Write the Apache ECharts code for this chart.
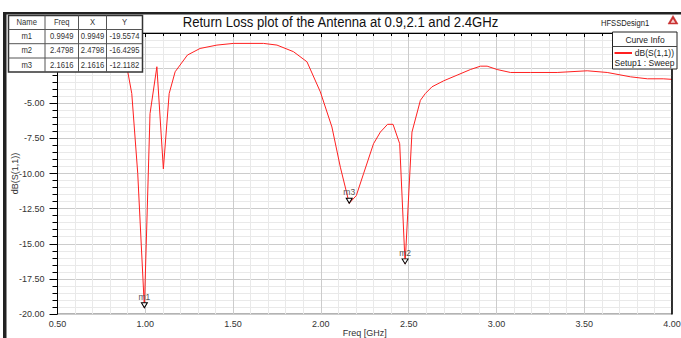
<!DOCTYPE html>
<html>
<head>
<meta charset="utf-8">
<script src="https://cdn.jsdelivr.net/npm/echarts@6/dist/echarts.min.js"></script>
<style>
html,body{margin:0;padding:0;background:#fff;}
#chart{width:681px;height:338px;}
</style>
</head>
<body>
<div id="chart"></div>
<script>
// ---- data ----
const freqGHz = [0.85, 0.895, 0.923, 0.957, 0.9949, 1.027, 1.066, 1.103, 1.136, 1.17, 1.24, 1.312, 1.408, 1.502, 1.673, 1.75, 1.844, 1.921, 1.997, 2.063, 2.111, 2.1616, 2.202, 2.243, 2.30, 2.339, 2.380, 2.411, 2.449, 2.4798, 2.519, 2.567, 2.595, 2.633, 2.70, 2.776, 2.852, 2.909, 2.947, 3.004, 3.08, 3.194, 3.346, 3.517, 3.631, 3.764, 3.86, 3.95, 4.0];
const dbS11 = [-1.0, -2.40, -4.31, -10.0, -19.5574, -5.74, -2.40, -9.67, -4.31, -2.76, -1.57, -1.10, -0.86, -0.74, -0.74, -0.86, -1.33, -2.05, -4.19, -6.69, -9.55, -12.1182, -11.57, -10.02, -7.88, -7.05, -6.5, -6.5, -7.88, -16.4295, -7.05, -4.79, -4.31, -3.83, -3.4, -3.0, -2.6, -2.36, -2.36, -2.6, -2.81, -2.81, -2.81, -2.69, -2.81, -3.12, -3.26, -3.26, -3.3];
const markerNames = ['m1', 'm2', 'm3'];
const markerFreq = [0.9949, 2.4798, 2.1616];
const markerDb = [-19.5574, -16.4295, -12.1182];
const tableHeaders = ['Name', 'Freq', 'X', 'Y'];
const titleText = 'Return Loss plot of the Antenna at 0.9,2.1 and 2.4GHz';
const designName = 'HFSSDesign1';
const curveName = 'dB(S(1,1))';
const sweepName = 'Setup1 : Sweep';
const xAxisName = 'Freq [GHz]';
const yAxisName = 'dB(S(1,1))';

const FONT = '"Liberation Sans", Arial, sans-serif';
const chart = echarts.init(document.getElementById('chart'), null, {renderer: 'svg'});

// table graphics
const colX = [8.5, 45, 78.5, 106.5, 142.5];
const rowY = [15.5, 29.5, 43.7, 58, 72];
const tableEls = [];
tableEls.push({type: 'rect', z: 100, shape: {x: colX[0], y: rowY[0], width: colX[4] - colX[0], height: rowY[4] - rowY[0]}, style: {fill: '#fff', stroke: '#333', lineWidth: 1.5}});
for (let c = 1; c < 4; c++) tableEls.push({type: 'line', z: 101, shape: {x1: colX[c], y1: rowY[0], x2: colX[c], y2: rowY[4]}, style: {stroke: '#555', lineWidth: 1}});
for (let r = 1; r < 4; r++) tableEls.push({type: 'line', z: 101, shape: {x1: colX[0], y1: rowY[r], x2: colX[4], y2: rowY[r]}, style: {stroke: '#555', lineWidth: 1}});
const rows = [tableHeaders].concat(markerNames.map((n, i) => [n, markerFreq[i].toFixed(4), markerFreq[i].toFixed(4), markerDb[i].toFixed(4)]));
rows.forEach((row, r) => {
  row.forEach((t, c) => {
    tableEls.push({type: 'text', z: 102, x: (colX[c] + colX[c + 1]) / 2, y: (rowY[r] + rowY[r + 1]) / 2,
      scaleX: 0.9,
      style: {text: t, fill: '#333', font: '8.5px ' + FONT, textAlign: 'center', textVerticalAlign: 'middle'}});
  });
});

const option = {
  animation: false,
  backgroundColor: '#fff',
  grid: {left: 57.5, right: 9, top: 33, bottom: 24, show: true, borderColor: '#666', borderWidth: 1,
    outerBoundsMode: 'none', containLabel: false},
  xAxis: {
    type: 'value', min: 0.5, max: 4, interval: 0.5,
    name: xAxisName, nameLocation: 'middle', nameGap: 14.5, nameMoveOverlap: false,
    nameTextStyle: {fontFamily: FONT, fontSize: 9, color: '#333'},
    axisLine: {lineStyle: {color: '#000', width: 1}},
    axisTick: {show: true, inside: false, length: 4, lineStyle: {color: '#000'}},
    minorTick: {show: true, splitNumber: 5, length: 3, lineStyle: {color: '#000'}},
    splitLine: {show: true, lineStyle: {color: '#cccccc', width: 1}},
    minorSplitLine: {show: true, lineStyle: {color: '#e9e9e9', width: 1}},
    axisLabel: {fontFamily: FONT, fontSize: 9, color: '#333', margin: 5, formatter: v => v.toFixed(2)}
  },
  yAxis: {
    type: 'value', min: -20, max: 0, interval: 2.5,
    name: yAxisName, nameLocation: 'middle', nameRotate: 90, nameGap: 38, nameMoveOverlap: false,
    nameTextStyle: {fontFamily: FONT, fontSize: 9, color: '#333'},
    axisLine: {show: true, lineStyle: {color: '#000', width: 1}},
    axisTick: {show: true, inside: false, length: 8, lineStyle: {color: '#000'}},
    minorTick: {show: true, splitNumber: 5, length: 5, lineStyle: {color: '#000'}},
    splitLine: {show: true, lineStyle: {color: '#cccccc', width: 1}},
    minorSplitLine: {show: true, lineStyle: {color: '#e9e9e9', width: 1}},
    axisLabel: {fontFamily: FONT, fontSize: 9, color: '#333', margin: 13,
      formatter: v => (v <= -5 ? v.toFixed(2) : '')}
  },
  series: [{
    name: curveName, type: 'line', symbol: 'none', smooth: false,
    lineStyle: {color: '#ff2020', width: 1},
    data: freqGHz.map((f, i) => [f, dbS11[i]]),
    markPoint: {
      symbol: 'path://M0,0 L10,0 L5,9 Z', symbolSize: [6, 5], symbolOffset: [0, '-50%'],
      itemStyle: {color: '#fff', borderColor: '#000', borderWidth: 1},
      label: {show: true, position: 'top', distance: 1, formatter: p => p.name,
        fontFamily: FONT, fontSize: 8.5, color: '#555'},
      data: markerNames.map((n, i) => ({name: n, coord: [markerFreq[i], markerDb[i]]}))
    }
  }],
  graphic: [
    {type: 'polygon', z: 110, shape: {points: [[673, 15.5], [678, 24], [668, 24]]}, style: {fill: '#c83030', stroke: '#c83030', lineWidth: 0.5}},
    {type: 'polygon', z: 111, shape: {points: [[673, 19], [675.3, 22.7], [670.7, 22.7]]}, style: {fill: '#f6d0d0'}},
    {type: 'line', z: 90, shape: {x1: 3, y1: 13.2, x2: 681, y2: 13.2}, style: {stroke: '#222', lineWidth: 2.5}},
    {type: 'rect', z: 90, shape: {x: 3, y: 12, width: 3.5, height: 326}, style: {fill: '#222'}},
    {type: 'line', z: 90, shape: {x1: 672, y1: 33, x2: 672, y2: 314.5}, style: {stroke: '#000', lineWidth: 1.5}},
    {type: 'text', z: 90, x: 340.5, y: 22, scaleX: 0.875,
      style: {text: titleText, fill: '#111', font: '15px ' + FONT, textAlign: 'center', textVerticalAlign: 'middle'}},
    {type: 'text', z: 90, x: 601, y: 22.5, scaleX: 0.8,
      style: {text: designName, fill: '#222', font: '9.5px ' + FONT, textAlign: 'left', textVerticalAlign: 'middle'}},
    // legend box
    {type: 'rect', z: 100, shape: {x: 612.5, y: 32, width: 64.5, height: 37}, style: {fill: '#fff', stroke: '#222', lineWidth: 1}},
    {type: 'line', z: 101, shape: {x1: 612.5, y1: 46.5, x2: 677, y2: 46.5}, style: {stroke: '#444', lineWidth: 1}},
    {type: 'text', z: 101, x: 645, y: 39.5, style: {text: 'Curve Info', fill: '#222', font: '8.5px ' + FONT, textAlign: 'center', textVerticalAlign: 'middle'}},
    {type: 'line', z: 101, shape: {x1: 614.5, y1: 53, x2: 632, y2: 53}, style: {stroke: '#ff2020', lineWidth: 2}},
    {type: 'text', z: 101, x: 674, y: 53, style: {text: curveName, fill: '#222', font: '8.5px ' + FONT, textAlign: 'right', textVerticalAlign: 'middle'}},
    {type: 'text', z: 101, x: 614.5, y: 63, style: {text: sweepName, fill: '#222', font: '8.5px ' + FONT, textAlign: 'left', textVerticalAlign: 'middle'}}
  ].concat(tableEls)
};
chart.setOption(option);
</script>
</body>
</html>
